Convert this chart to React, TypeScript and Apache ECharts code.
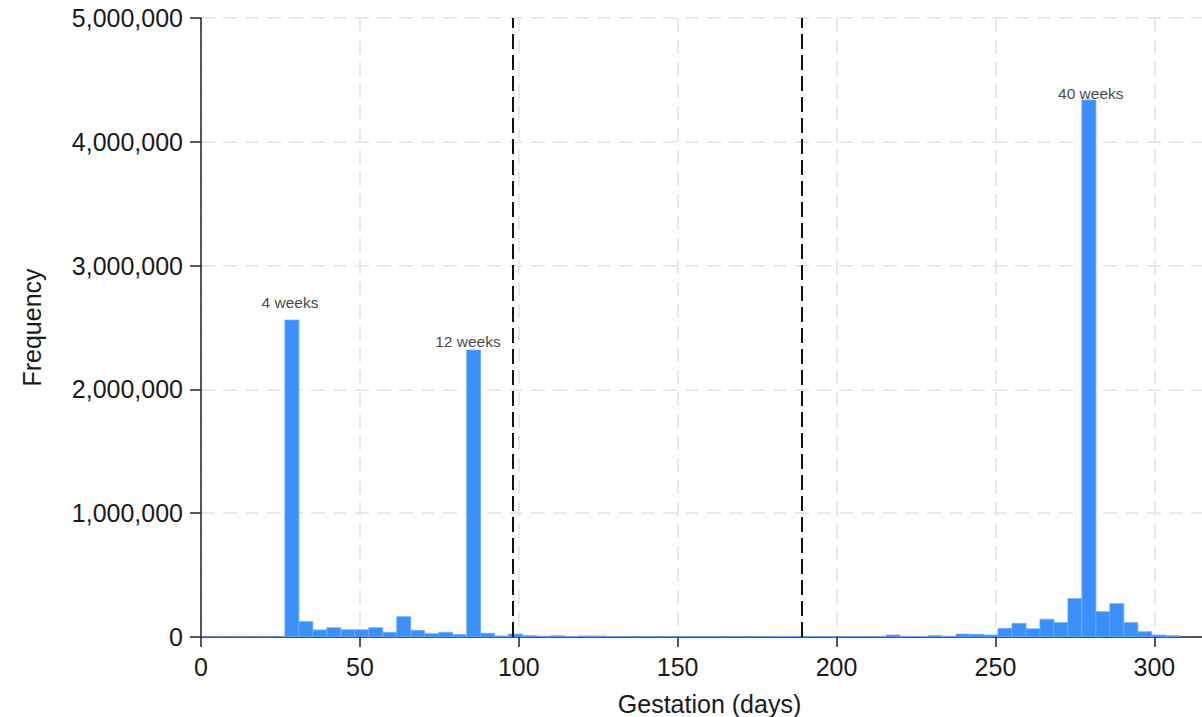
import React, { useEffect, useRef } from "react";
import * as echarts from "echarts";

// Histogram: 70 bins of 4.4 days each, starting at 0 days
const binWidth = 4.4;
const counts: number[] = [
  0, 0, 0, 0, 0, 0, 2560000, 124000, 57000, 75000,
  59000, 59000, 75000, 38000, 164000, 54000, 27000, 38000, 19000, 2318000,
  30000, 8000, 24000, 11000, 6000, 10000, 4000, 8000, 8000, 3000,
  2000, 2000, 2000, 2000, 2000, 2000, 2000, 2000, 2000, 2000,
  2000, 5000, 3000, 3000, 3000, 3000, 3000, 3000, 3000, 16000,
  5000, 4000, 11000, 5000, 24000, 22000, 16000, 70000, 110000, 67000,
  143000, 116000, 310000, 4338000, 205000, 269000, 116000, 43000, 16000, 11000,
];
const peakWeeks: number[] = [4, 12, 40];
const peakLabelY: number[] = [2700000, 2390000, 4390000];
const peakLabels: string[] = ["4 weeks", "12 weeks", "40 weeks"];
const refLinesDays: number[] = [98, 189];
const xTicks: number[] = [0, 50, 100, 150, 200, 250, 300];
const yTicks: number[] = [0, 1000000, 2000000, 3000000, 4000000, 5000000];

export default function App() {
  const ref = useRef<HTMLDivElement>(null);
  useEffect(() => {
    if (!ref.current) return;
    const chart = echarts.init(ref.current, undefined, { renderer: "svg" });
    const barData = counts.map((c, i) => [i * binWidth, (i + 1) * binWidth, c]);
    const labelData = peakWeeks.map((w, i) => ({
      value: [w * 7, peakLabelY[i]],
      name: peakLabels[i],
    }));
    const font = "Liberation Sans, Arial, sans-serif";
    chart.setOption({
      animation: false,
      backgroundColor: "#ffffff",
      grid: { left: 201, top: 18, right: 0, height: 619, containLabel: false, outerBoundsMode: "none" },
      xAxis: {
        type: "value",
        min: 0,
        max: 315,
        interval: 50,
        name: "Gestation (days)",
        nameLocation: "middle",
        nameGap: 54,
        nameTextStyle: { fontSize: 25, color: "#1a1a1a", fontFamily: font, padding: [0, 0, 0, 16] },
        axisLine: { show: true, onZero: false, lineStyle: { color: "#222", width: 1.5 } },
        axisTick: { show: true, length: 10, lineStyle: { color: "#222", width: 1.5 }, customValues: xTicks },
        axisLabel: {
          fontSize: 25,
          color: "#1a1a1a",
          fontFamily: font,
          margin: 17,
          customValues: xTicks,
        },
        splitLine: { show: true, lineStyle: { color: "#e8e8e8", width: 2, type: [14, 8] } },
      },
      yAxis: {
        type: "value",
        min: 0,
        max: 5000000,
        interval: 1000000,
        name: "Frequency",
        nameLocation: "middle",
        nameGap: 157,
        nameRotate: 90,
        nameTextStyle: { fontSize: 25, color: "#1a1a1a", fontFamily: font },
        axisLine: { show: true, lineStyle: { color: "#222", width: 1.5 } },
        axisTick: { show: true, length: 11, lineStyle: { color: "#222", width: 1.5 }, customValues: yTicks },
        axisLabel: {
          fontSize: 25,
          color: "#1a1a1a",
          fontFamily: font,
          margin: 18,
          customValues: yTicks,
          formatter: (v: number) => v.toLocaleString("en-US"),
        },
        splitLine: { show: true, lineStyle: { color: "#e8e8e8", width: 2, type: [14, 8] } },
      },
      series: [
        {
          type: "custom",
          data: barData,
          clip: true,
          renderItem: (params: any, api: any) => {
            const x0 = api.value(0);
            const x1 = api.value(1);
            const v = api.value(2);
            const p0 = api.coord([x0, 0]);
            const p1 = api.coord([x1, v]);
            return {
              type: "rect",
              shape: { x: p0[0], y: p1[1], width: p1[0] - p0[0], height: p0[1] - p1[1] },
              style: { fill: "#3a8ffb", stroke: "#6aacfc", lineWidth: 0.8 },
            };
          },
          z: 2,
        },
        {
          type: "scatter",
          data: labelData,
          symbolSize: 0,
          silent: true,
          label: {
            show: true,
            position: "inside",
            formatter: (p: any) => p.name,
            fontSize: 15.5,
            color: "#111",
            fontFamily: font,
          },
          markLine: {
            silent: true,
            symbol: "none",
            label: { show: false },
            lineStyle: { color: "#111", width: 2, type: [15, 6] },
            data: refLinesDays.map((d) => ({ xAxis: d })),
          },
          z: 5,
        },
      ],
    });
    return () => chart.dispose();
  }, []);
  return (
    <div
      ref={ref}
      style={{ position: "fixed", left: 0, top: 0, width: 1202, height: 717, background: "#fff" }}
    />
  );
}
